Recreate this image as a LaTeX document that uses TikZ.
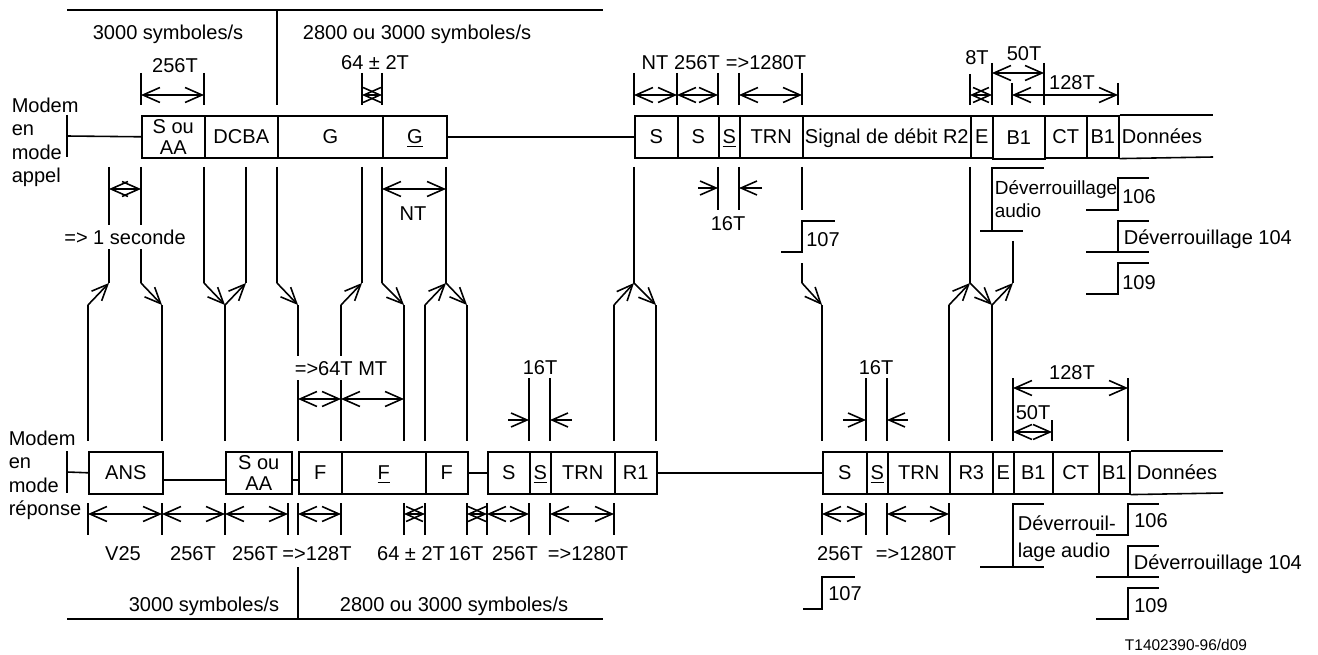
\documentclass[tikz,border=0pt]{standalone}
\usepackage{fontspec}
\setmainfont{Liberation Sans}
\usetikzlibrary{arrows.meta}
\newcommand\tf{\fontsize{11.4pt}{13.3pt}\selectfont}
\newcommand\bx[6]{\node[box,minimum width={(#3-#2)*0.02cm},minimum height={(#5-#4)*0.02cm},anchor=north west] (#1) at (#2,#4) {#6};}
\newcommand\bxm[6]{\node[boxm,minimum width={(#3-#2)*0.02cm},minimum height={(#5-#4)*0.02cm},anchor=north west] (#1) at (#2,#4) {#6};}
\begin{document}
\begin{tikzpicture}[x=0.02cm,y=-0.02cm,line width=0.9pt,
  box/.style={draw,inner sep=0pt,font=\tf,text height=8.2pt,text depth=0pt},
  boxm/.style={draw,inner sep=0pt,font=\fontsize{11.4pt}{12pt}\selectfont,align=center},
  lab/.style={inner sep=0pt,font=\tf,text height=8.2pt,text depth=0pt},
  wlab/.style={lab,fill=white,inner xsep=1pt,inner ysep=3pt},
  mlab/.style={inner sep=0pt,font=\tf,align=left,anchor=north west},
  dim/.style={{Straight Barb[length=0.34cm,width=0.3cm]}-{Straight Barb[length=0.34cm,width=0.3cm]}},
  sig/.style={-{Straight Barb[length=0.32cm,width=0.28cm]}}]
\useasboundingbox (0,0) rectangle (1318,655);

% ---------------- calling modem (top) ----------------
\draw (67,10) -- (603,10);
\draw (277,10) -- (277,105);
\node[lab] (rt1) at (168,32) {3000 symboles/s};
\node[lab] (rt2) at (417,32) {2800 ou 3000 symboles/s};

\node[mlab] (mapp) at (11,97) {Modem\\en\\mode\\appel};

% top dimensions
\foreach \x in {141,204,362,382,634,677,718,739,802} \draw (\x,73) -- (\x,105);
\draw[dim] (141,95) -- (204,95);
\node[lab] (d256a) at (175,65) {256T};
\draw[dim] (362,95) -- (382,95);
\node[lab] (d64a) at (375,62) {64 ± 2T};
\draw[dim] (634,95) -- (677,95);
\draw[dim] (677,95) -- (718,95);
\draw[dim] (739,95) -- (802,95);
\node[lab] (dnt) at (655,62) {NT};
\node[lab] (d256b) at (697,62) {256T};
\node[lab] (d1280a) at (766,62) {=>1280T};
\draw (970,74) -- (970,105);
\draw (992,63) -- (992,105);
\draw (1044,63) -- (1044,105);
\draw (1012,83) -- (1012,105);
\draw (1118,83) -- (1118,105);
\draw[dim] (970,95) -- (992,95);
\draw[dim] (992,73) -- (1044,73);
\draw[dim] (1012,95) -- (1118,95);
\node[lab] (d8) at (977,57) {8T};
\node[lab] (d50a) at (1024,53) {50T};
\node[lab] (d128a) at (1072,82) {128T};

% top boxes
\draw (67,115) -- (67,157);
\bxm{t1}{141}{204}{115}{157}{S ou\\AA}
\bx{t2}{204}{277}{115}{157}{DCBA}
\bx{t3}{277}{382}{115}{157}{G}
\bx{t4}{382}{446}{115}{157}{\underline{G}}
\bx{t5}{634}{677}{115}{157}{S}
\bx{t6}{677}{718}{115}{157}{S}
\bx{t7}{718}{739}{115}{157}{\underline{S}}
\bx{t8}{739}{802}{115}{157}{TRN}
\bx{t9}{802}{970}{115}{157}{Signal de débit R2}
\bx{t10}{970}{992}{115}{157}{E}
\bx{t11}{992}{1044}{115}{158}{B1}
\bx{t12}{1044}{1086}{115}{157}{CT}
\bx{t13}{1086}{1118}{115}{157}{B1}
\draw (67,136) -- (t1.west);
\draw (t4.east) -- (t5.west);
\draw (t13.north east) -- (1213,115);
\draw (t13.south east) -- (1213,157);
\node[lab] (tdon) at (1162,136) {Données};

% verticals below top boxes
\foreach \x in {109,141,204,246,277,362,382,446,634,970} \draw (\x,167) -- (\x,283);
\draw (718,167) -- (718,210);
\draw (739,167) -- (739,210);
\draw (802,167) -- (802,210);
\draw (802,263) -- (802,283);
\draw (1013,241) -- (1013,283);

\draw[dim] (109,189) -- (141,189);
\node[wlab] (sec) at (125,237) {=> 1 seconde};
\draw[dim] (382,189) -- (446,189);
\node[lab] (dnt2) at (413,213) {NT};
\draw[sig] (698,188) -- (718,188);
\draw[sig] (762,188) -- (739,188);
\node[lab] (d16a) at (728,223) {16T};

% 107 (top)
\draw (781,252) -- (802,252) -- (802,221) -- (835,221);
\node[lab] (s107a) at (823,239) {107};
% Deverrouillage audio (top)
\draw (980,231) -- (1023,231);
\draw (992,231) -- (992,168) -- (1044,168);
\node[mlab,font=\fontsize{10.8pt}{13pt}\selectfont] (dva) at (994,180) {Déverrouillage\\audio};
% 106 / 104 / 109 (top)
\draw (1086,210) -- (1118,210) -- (1118,178) -- (1149,178);
\node[lab] (s106a) at (1139,196) {106};
\draw (1086,252) -- (1149,252);
\draw (1118,252) -- (1118,221) -- (1149,221);
\node[lab,anchor=west] (s104a) at (1123,237) {Déverrouillage 104};
\draw (1086,294) -- (1118,294) -- (1118,263) -- (1149,263);
\node[lab] (s109a) at (1139,282) {109};

% ---------------- signal transitions ----------------
\foreach \a/\b in {88/109,225/246,341/362,425/446,614/634,949/970,992/1013}
  \draw[sig] (\a,305) -- (\b,283);
\foreach \a/\b in {141/162,204/225,277/298,382/404,446/467,634/656,802/822,970/992}
  \draw[sig] (\a,283) -- (\b,305);
\foreach \x in {88,162,225,298,341,404,425,467,614,656,822,949,992}
  \draw (\x,305) -- (\x,441);

% ---------------- answering modem (bottom) ----------------
\draw[dim] (298,399) -- (341,399);
\draw[dim] (341,399) -- (404,399);
\node[wlab] (mt) at (341,368) {=>64T MT};

\foreach \x in {529,550,866,887,1013,1128} \draw (\x,378) -- (\x,441);
\draw (1052,420) -- (1052,441);
\draw[sig] (508,420) -- (529,420);
\draw[sig] (572,420) -- (550,420);
\node[lab] (d16b) at (540,367) {16T};
\draw[sig] (843,420) -- (866,420);
\draw[sig] (908,420) -- (887,420);
\node[lab] (d16c) at (876,367) {16T};
\draw[dim] (1013,388) -- (1128,388);
\node[lab] (d128b) at (1072,372) {128T};
\draw[dim] (1013,432) -- (1052,432);
\node[lab] (d50b) at (1033,412) {50T};

\node[mlab] (mrep) at (8,430) {Modem\\en\\mode\\réponse};

\draw (67,451) -- (67,493);
\bx{b1}{88}{162}{451}{493}{ANS}
\bxm{b2}{225}{291}{451}{493}{S ou\\AA}
\bx{b3}{298}{341}{451}{493}{F}
\bx{b4}{341}{425}{451}{493}{\underline{F}}
\bx{b5}{425}{467}{451}{493}{F}
\bx{b6}{487}{529}{451}{493}{S}
\bx{b7}{529}{550}{451}{493}{\underline{S}}
\bx{b8}{550}{614}{451}{493}{TRN}
\bx{b9}{614}{656}{451}{493}{R1}
\bx{b10}{822}{866}{451}{493}{S}
\bx{b11}{866}{887}{451}{493}{\underline{S}}
\bx{b12}{887}{949}{451}{493}{TRN}
\bx{b13}{949}{992}{451}{493}{R3}
\bx{b14}{992}{1013}{451}{493}{E}
\bx{b15}{1013}{1052}{451}{493}{B1}
\bx{b16}{1052}{1098}{451}{493}{CT}
\bx{b17}{1098}{1129}{451}{493}{B1}
\draw (67,472) -- (b1.west);
\draw (162,480) -- (225,480);
\draw (291,480) -- (298,480);
\draw (b5.east) -- (b6.west);
\draw (b9.east) -- (b10.west);
\draw (b17.north east) -- (1223,451);
\draw (b17.south east) -- (1223,493);
\node[lab] (bdon) at (1177,472) {Données};

% dimensions below bottom boxes
\foreach \x in {88,162,225,288,298,341,404,425,467,487,529,550,614,822,866,887,949}
  \draw (\x,503) -- (\x,535);
\foreach \a/\b in {88/162,162/225,225/288,298/341,404/425,467/487,487/529,550/614,822/866,887/949}
  \draw[dim] (\a,514) -- (\b,514);
\node[lab] (lv25) at (123,553) {V25};
\node[lab] (l256a) at (193,553) {256T};
\node[lab] (l256b) at (255,553) {256T};
\node[lab] (l128) at (317,553) {=>128T};
\node[lab] (l64) at (411,553) {64 ± 2T};
\node[lab] (l16) at (466,553) {16T};
\node[lab] (l256c) at (515,553) {256T};
\node[lab] (l1280a) at (588,553) {=>1280T};
\node[lab] (l256d) at (840,553) {256T};
\node[lab] (l1280b) at (916,553) {=>1280T};

\draw (298,567) -- (298,619);
\draw (67,619) -- (603,619);
\node[lab] (rb1) at (204,604) {3000 symboles/s};
\node[lab] (rb2) at (454,604) {2800 ou 3000 symboles/s};

% 107 (bottom)
\draw (803,609) -- (822,609) -- (822,577) -- (855,577);
\node[lab] (s107b) at (845,593) {107};
% Deverrouillage audio (bottom)
\draw (980,567) -- (1044,567);
\draw (1013,567) -- (1013,504) -- (1044,504);
\node[mlab,font=\fontsize{11.4pt}{15.2pt}\selectfont] (dvb) at (1017,515) {Déverrouil-\\lage audio};
% 106 / 104 / 109 (bottom)
\draw (1096,535) -- (1128,535) -- (1128,504) -- (1159,504);
\node[lab] (s106b) at (1151,520) {106};
\draw (1096,577) -- (1159,577);
\draw (1128,577) -- (1128,546) -- (1159,546);
\node[lab,anchor=west] (s104b) at (1133,562) {Déverrouillage 104};
\draw (1096,619) -- (1128,619) -- (1128,588) -- (1159,588);
\node[lab] (s109b) at (1151,605) {109};

\node[inner sep=0pt,font=\fontsize{8.8pt}{10pt}\selectfont] (ref) at (1186,645) {T1402390-96/d09};
\end{tikzpicture}
\end{document}
